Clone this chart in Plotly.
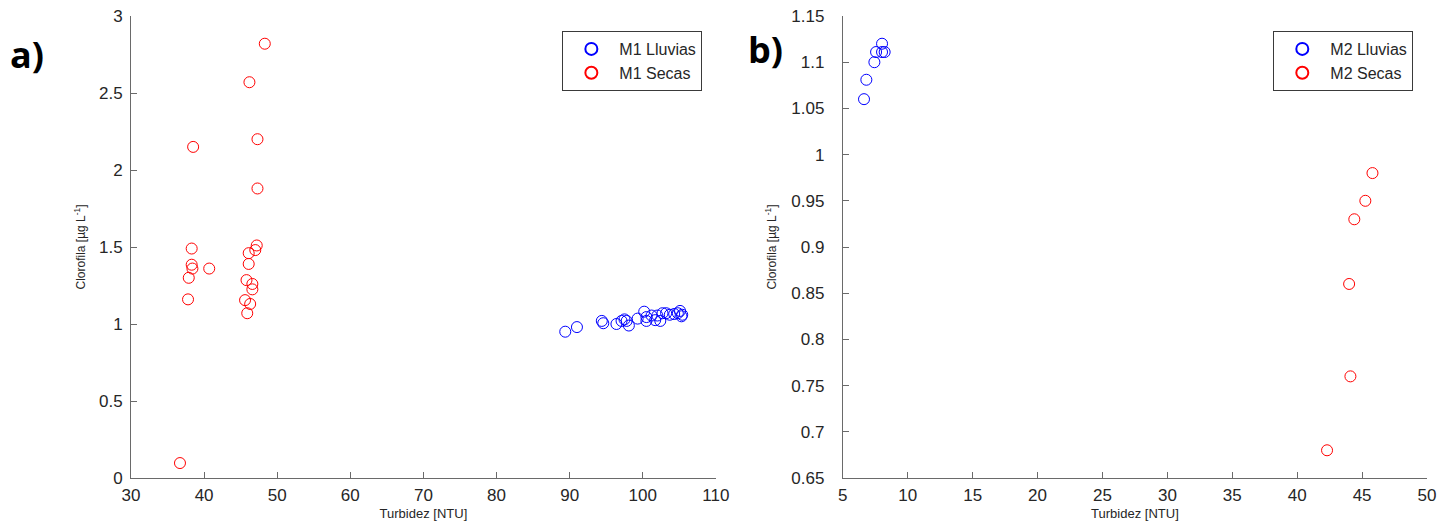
import plotly.graph_objects as go

# ---- data ----
m1_lluvias_x = [89.4, 91.0, 94.4, 94.6, 96.4, 97.1, 97.5, 97.8, 98.1, 99.3, 100.2, 100.5, 100.5,
                101.2, 101.7, 102.0, 102.4, 102.7, 103.2, 103.7, 104.3, 104.8, 105.1, 105.4, 105.3]
m1_lluvias_y = [0.95, 0.98, 1.02, 1.005, 1.00, 1.02, 1.03, 1.02, 0.99, 1.035, 1.08, 1.045, 1.02,
                1.055, 1.025, 1.055, 1.02, 1.07, 1.07, 1.06, 1.065, 1.07, 1.085, 1.06, 1.05]
m1_secas_x = [48.3, 46.2, 47.3, 38.5, 47.3, 47.2, 38.3, 47.0, 46.1, 46.1, 38.3, 38.4, 40.7,
              37.9, 45.8, 46.6, 46.6, 37.8, 45.6, 46.3, 45.9, 36.7]
m1_secas_y = [2.82, 2.57, 2.20, 2.15, 1.88, 1.51, 1.49, 1.48, 1.46, 1.39, 1.385, 1.36, 1.36,
              1.30, 1.285, 1.26, 1.225, 1.16, 1.155, 1.13, 1.07, 0.097]
m2_lluvias_x = [8.02, 7.56, 8.02, 8.22, 7.43, 6.81, 6.63]
m2_lluvias_y = [1.120, 1.111, 1.111, 1.111, 1.100, 1.081, 1.060]
m2_secas_x = [45.8, 45.25, 44.4, 44.0, 44.1, 42.3]
m2_secas_y = [0.98, 0.95, 0.93, 0.86, 0.76, 0.68]

x1_ticks = [30, 40, 50, 60, 70, 80, 90, 100, 110]
y1_ticks = [0, 0.5, 1, 1.5, 2, 2.5, 3]
y1_labels = ["0", "0.5", "1", "1.5", "2", "2.5", "3"]
x2_ticks = [5, 10, 15, 20, 25, 30, 35, 40, 45, 50]
y2_ticks = [0.65, 0.7, 0.75, 0.8, 0.85, 0.9, 0.95, 1.0, 1.05, 1.1, 1.15]
y2_labels = ["0.65", "0.7", "0.75", "0.8", "0.85", "0.9", "0.95", "1", "1.05", "1.1", "1.15"]

BLUE = "rgb(0,0,255)"
RED = "rgb(255,0,0)"
TXT = "#262626"
LINE = "#6a6a6a"
FONT = "Liberation Sans, Arial, sans-serif"

fig = go.Figure()

def mk(x, y, name, color, xa, ya, legend):
    return go.Scatter(x=x, y=y, mode="markers", name=name, xaxis=xa, yaxis=ya, legend=legend,
                      marker=dict(symbol="circle-open", size=11, color=color,
                                  line=dict(width=1, color=color)))

fig.add_trace(mk(m1_lluvias_x, m1_lluvias_y, "M1 Lluvias", BLUE, "x", "y", "legend"))
fig.add_trace(mk(m1_secas_x, m1_secas_y, "M1 Secas", RED, "x", "y", "legend"))
fig.add_trace(mk(m2_lluvias_x, m2_lluvias_y, "M2 Lluvias", BLUE, "x2", "y2", "legend2"))
fig.add_trace(mk(m2_secas_x, m2_secas_y, "M2 Secas", RED, "x2", "y2", "legend2"))

axis_common = dict(showline=True, linecolor=LINE, linewidth=1, ticks="inside", ticklen=6,
                   tickcolor=LINE, showgrid=False, zeroline=False, mirror=False,
                   ticklabeloverflow="allow",
                   tickfont=dict(family=FONT, size=17, color=TXT))

# page body has an 8px offset: figure coords = page coords - 8
OFF = 8
FW, FH = 1444, 521
L = 130.6 - OFF
T = 16 - OFF
Rr = FW - (1426.7 - OFF)
B = FH - (478 - OFF)
W = FW - L - Rr
H = FH - T - B

def px(xp):
    return (xp - OFF - L) / W

def py(yp):
    return (FH - B - (yp - OFF)) / H

d1 = px(715.5)
d2 = px(842.5)

legend_common = dict(xanchor="right", yanchor="top", bordercolor="#3a3a3a", borderwidth=1,
                     bgcolor="white", font=dict(family=FONT, size=16, color=TXT),
                     itemsizing="constant", tracegroupgap=0, itemwidth=46)

fig.update_layout(
    width=FW, height=FH,
    margin=dict(l=L, r=Rr, t=T, b=B, autoexpand=False),
    paper_bgcolor="white", plot_bgcolor="white",
    font=dict(family=FONT, color=TXT),
    xaxis=dict(domain=[0, d1], range=[30, 110], tickvals=x1_ticks, anchor="y",
               title=dict(text="Turbidez [NTU]", font=dict(size=13, color=TXT), standoff=4),
               ticklabelstandoff=2, **axis_common),
    yaxis=dict(domain=[0, 1], range=[0, 3], tickvals=y1_ticks, ticktext=y1_labels, anchor="x",
               title=dict(text="Clorofila [µg L<sup>-1</sup>]", font=dict(size=12, color=TXT), standoff=10),
               ticklabelstandoff=4, **axis_common),
    xaxis2=dict(domain=[d2, 1], range=[5, 50], tickvals=x2_ticks, anchor="y2",
                title=dict(text="Turbidez [NTU]", font=dict(size=13, color=TXT), standoff=4),
                ticklabelstandoff=2, **axis_common),
    yaxis2=dict(domain=[0, 1], range=[0.65, 1.15], tickvals=y2_ticks, ticktext=y2_labels, anchor="x2",
                title=dict(text="Clorofila [µg L<sup>-1</sup>]", font=dict(size=12, color=TXT), standoff=12),
                ticklabelstandoff=14, **axis_common),
    legend=dict(x=px(702), y=py(31), **legend_common),
    legend2=dict(x=px(1413), y=py(31), **legend_common),
    showlegend=True,
)

fig.add_annotation(text="<b>a)</b>", xref="paper", yref="paper", x=px(8), y=py(55),
                   xanchor="left", yanchor="middle", showarrow=False,
                   font=dict(family="Open Sans, sans-serif", size=36, color="black"))
fig.add_annotation(text="<b>b)</b>", xref="paper", yref="paper", x=px(746), y=py(50),
                   xanchor="left", yanchor="middle", showarrow=False,
                   font=dict(family="Open Sans, sans-serif", size=36, color="black"))

fig.write_html("out.html")
